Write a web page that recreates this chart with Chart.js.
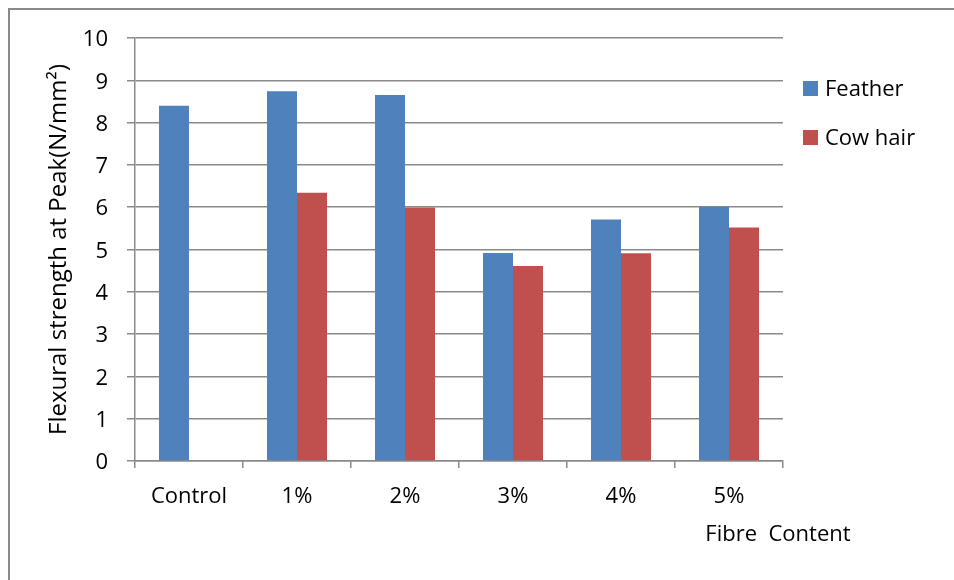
<!DOCTYPE html>
<html>
<head>
<meta charset="utf-8">
<script src="https://cdn.jsdelivr.net/npm/chart.js@4/dist/chart.umd.min.js"></script>
<style>
html,body{margin:0;padding:0;background:#fff;}
#wrap{position:relative;width:954px;height:580px;overflow:hidden;}
#frame{position:absolute;left:8px;top:8px;width:946px;height:572px;border-top:2px solid #898989;border-left:2px solid #898989;box-sizing:border-box;pointer-events:none;}
canvas{position:absolute;left:0;top:0;}
</style>
</head>
<body>
<div id="wrap"><canvas id="c" width="954" height="580"></canvas><div id="frame"></div></div>
<script>
const categories = ['Control', '1%', '2%', '3%', '4%', '5%'];
const featherValues = [8.40, 8.74, 8.65, 4.92, 5.71, 6.01];
const cowHairValues = [null, 6.34, 5.99, 4.61, 4.91, 5.52];
const seriesNames = ['Feather', 'Cow hair'];
const seriesColors = ['#4F81BD', '#C0504D'];
const yMin = 0, yMax = 10, yStep = 1;
const yAxisTitle = 'Flexural strength at Peak(N/mm\u00B2)';
const xAxisTitle = 'Fibre  Content';

const FONT = '"Open Sans", "Noto Sans", sans-serif';
const GRID = '#8a8a8a';

const extras = {
  id: 'extras',
  afterDraw(chart) {
    const {ctx, chartArea} = chart;
    ctx.save();
    ctx.font = '22px ' + FONT;
    ctx.textBaseline = 'middle';
    ctx.textAlign = 'left';
    chart.data.datasets.forEach((ds, i) => {
      const y = chartArea.top + 50.5 + i * 49;
      ctx.fillStyle = ds.backgroundColor;
      ctx.fillRect(chartArea.right + 20, y - 7.5, 15, 15);
      ctx.fillStyle = '#000';
      ctx.fillText(ds.label, chartArea.right + 42, y + 1.5);
    });
    ctx.textAlign = 'center';
    ctx.fillStyle = '#000';
    ctx.fillText(xAxisTitle, chartArea.right - 5, chartArea.bottom + 74);
    ctx.restore();
  }
};

new Chart(document.getElementById('c'), {
  type: 'bar',
  data: {
    labels: categories,
    datasets: [
      {label: seriesNames[0], data: featherValues, backgroundColor: seriesColors[0], borderWidth: 0},
      {label: seriesNames[1], data: cowHairValues, backgroundColor: seriesColors[1], borderWidth: 0}
    ]
  },
  options: {
    responsive: false,
    animation: false,
    devicePixelRatio: 1,
    layout: {padding: {left: 0, top: 38, right: 171, bottom: 0}},
    datasets: {bar: {categoryPercentage: 0.5556, barPercentage: 1}},
    plugins: {legend: {display: false}, tooltip: {enabled: false}},
    scales: {
      x: {
        afterFit(scale) { scale.height = 119; },
        grid: {display: true, drawOnChartArea: false, drawTicks: true, tickLength: 7, offset: true, color: GRID, lineWidth: 1.5},
        border: {display: true, color: GRID, width: 1.5},
        ticks: {color: '#000', font: {family: FONT, size: 22}, padding: 16, maxRotation: 0}
      },
      y: {
        min: yMin, max: yMax,
        afterFit(scale) { scale.width = 135; },
        grid: {color: GRID, lineWidth: 1.5, drawTicks: true, tickLength: 8},
        border: {display: true, color: GRID, width: 1.5},
        ticks: {stepSize: yStep, color: '#000', font: {family: FONT, size: 22}, padding: 19, labelOffset: 2},
        title: {display: true, text: yAxisTitle, color: '#000', font: {family: FONT, size: 24}, padding: {top: 45, bottom: 0}}
      }
    }
  },
  plugins: [extras]
});
</script>
</body>
</html>
